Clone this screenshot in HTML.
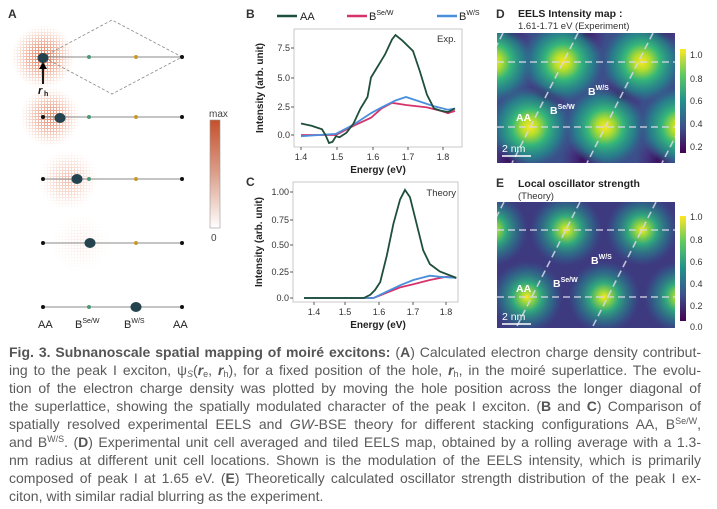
<!DOCTYPE html>
<html><head><meta charset="utf-8"><style>
html,body{margin:0;padding:0;background:#fff;}
body{width:717px;height:509px;position:relative;overflow:hidden;font-family:"Liberation Sans",sans-serif;}
.cap{position:absolute;left:9px;width:692px;font-size:14px;color:#5a5a5a;line-height:18px;white-space:nowrap;text-align:justify;text-align-last:justify;}
.cap.last{text-align-last:left;}
.cap b{color:#555;}
sup{font-size:9px;vertical-align:5px;line-height:0;}
sub{font-size:9px;vertical-align:-2px;line-height:0;}
</style></head><body>
<svg width="717" height="340" style="position:absolute;left:0;top:0" font-family="Liberation Sans, sans-serif">
<defs>
<radialGradient id="rc"><stop offset="0" stop-color="#d9542a" stop-opacity="0.85"/><stop offset="0.5" stop-color="#e0683e" stop-opacity="0.45"/><stop offset="1" stop-color="#f0a080" stop-opacity="0"/></radialGradient>
<pattern id="dots" width="3" height="3" patternUnits="userSpaceOnUse"><rect width="3" height="3" fill="#fff"/><rect width="2" height="2" fill="#000"/></pattern>
<mask id="dm"><rect x="0" y="0" width="240" height="340" fill="url(#dots)"/></mask>
<linearGradient id="cbA" x1="0" y1="0" x2="0" y2="1"><stop offset="0" stop-color="#c4502c"/><stop offset="0.5" stop-color="#dca08c"/><stop offset="1" stop-color="#ffffff"/></linearGradient>
<radialGradient id="ys"><stop offset="0" stop-color="#fde725"/><stop offset="0.2" stop-color="#b5de2b"/><stop offset="0.45" stop-color="#35b779"/><stop offset="0.75" stop-color="#21918c" stop-opacity="0.7"/><stop offset="1" stop-color="#2a788e" stop-opacity="0"/></radialGradient>
<radialGradient id="ys2"><stop offset="0" stop-color="#fde725"/><stop offset="0.15" stop-color="#a0da39"/><stop offset="0.4" stop-color="#2fb47c" stop-opacity="0.9"/><stop offset="0.75" stop-color="#26828e" stop-opacity="0.5"/><stop offset="1" stop-color="#31688e" stop-opacity="0"/></radialGradient>
<radialGradient id="dk"><stop offset="0" stop-color="#3b0f5e"/><stop offset="0.6" stop-color="#46307e" stop-opacity="0.7"/><stop offset="1" stop-color="#46307e" stop-opacity="0"/></radialGradient>
<linearGradient id="vir" x1="0" y1="1" x2="0" y2="0"><stop offset="0" stop-color="#440154"/><stop offset="0.25" stop-color="#3b528b"/><stop offset="0.5" stop-color="#21918c"/><stop offset="0.75" stop-color="#5ec962"/><stop offset="1" stop-color="#fde725"/></linearGradient>
<clipPath id="cd"><rect x="497" y="33" width="178" height="130"/></clipPath>
<clipPath id="ce"><rect x="497" y="202" width="178" height="126"/></clipPath>
</defs>
<!-- Panel A -->
<text x="8" y="18" font-size="12" font-weight="bold" fill="#333">A</text>
<g mask="url(#dm)">
<circle cx="43" cy="57" r="32" fill="url(#rc)"/>
<circle cx="50" cy="117" r="30" fill="url(#rc)" opacity="0.85"/>
<circle cx="68" cy="180" r="30" fill="url(#rc)" opacity="0.45"/>
<circle cx="80" cy="243" r="30" fill="url(#rc)" opacity="0.12"/>
</g>
<polygon points="43,57 112,20 182,57 112,94" fill="none" stroke="#888" stroke-width="0.8" stroke-dasharray="3,2"/>
<g stroke="#888" stroke-width="1">
<line x1="43" y1="57" x2="182" y2="57"/><line x1="43" y1="117" x2="182" y2="117"/><line x1="43" y1="179" x2="182" y2="179"/><line x1="43" y1="243" x2="182" y2="243"/><line x1="43" y1="307" x2="182" y2="307"/></g>
<g fill="#111"><circle cx="43" cy="117" r="2"/><circle cx="43" cy="179" r="2"/><circle cx="43" cy="243" r="2"/><circle cx="43" cy="307" r="2"/>
<circle cx="182" cy="57" r="2"/><circle cx="182" cy="117" r="2"/><circle cx="182" cy="179" r="2"/><circle cx="182" cy="243" r="2"/><circle cx="182" cy="307" r="2"/></g>
<g fill="#4f9a78"><circle cx="89" cy="57" r="2"/><circle cx="89" cy="117" r="2"/><circle cx="89" cy="179" r="2"/><circle cx="89" cy="307" r="2"/></g>
<g fill="#c89a2a"><circle cx="136" cy="57" r="2"/><circle cx="136" cy="117" r="2"/><circle cx="136" cy="179" r="2"/><circle cx="136" cy="243" r="2"/></g>
<g fill="#24434f"><ellipse cx="43" cy="58" rx="5.5" ry="5"/><ellipse cx="60" cy="118" rx="5.5" ry="5"/><ellipse cx="77" cy="179" rx="5.5" ry="5"/><ellipse cx="90" cy="243" rx="5.5" ry="5"/><ellipse cx="136" cy="307" rx="5.5" ry="5"/></g>
<line x1="43" y1="84" x2="43" y2="67" stroke="#000" stroke-width="1.8"/><polygon points="39,69 47,69 43,62" fill="#000"/>
<text x="38" y="94" font-size="11" font-weight="bold" font-style="italic" fill="#111">r</text><text x="44" y="96" font-size="7" font-weight="bold" fill="#111">h</text>
<text x="209" y="117" font-size="10" fill="#444">max</text>
<rect x="210" y="120" width="10" height="108" fill="url(#cbA)" stroke="#999" stroke-width="0.6"/>
<text x="211" y="241" font-size="10" fill="#444">0</text>
<g font-size="11" fill="#222"><text x="38" y="328">AA</text><text x="75" y="328">B<tspan font-size="7" dy="-5">Se/W</tspan></text><text x="124" y="328">B<tspan font-size="7" dy="-5">W/S</tspan></text><text x="173" y="328">AA</text></g>

<!-- Panel B -->
<text x="246" y="18" font-size="12" font-weight="bold" fill="#333">B</text>
<line x1="277" y1="16" x2="297" y2="16" stroke="#1f4f3a" stroke-width="2.5"/><text x="300" y="20" font-size="11" fill="#222">AA</text>
<line x1="347" y1="16" x2="367" y2="16" stroke="#d6336c" stroke-width="2.5"/><text x="369" y="20" font-size="11" fill="#222">B<tspan font-size="7" dy="-5">Se/W</tspan></text>
<line x1="437" y1="16" x2="457" y2="16" stroke="#4a8fdc" stroke-width="2.5"/><text x="438" y="20" font-size="11" fill="#222" dx="21">B<tspan font-size="7" dy="-5">W/S</tspan></text>
<rect x="294" y="29" width="168" height="118" fill="none" stroke="#bbb" stroke-width="0.8"/>
<g font-size="9" fill="#333" text-anchor="end"><text x="290" y="51">7.5</text><text x="290" y="81">5.0</text><text x="290" y="110">2.5</text><text x="290" y="138">0.0</text></g>
<g stroke="#333" stroke-width="0.8"><line x1="294" y1="48" x2="291" y2="48"/><line x1="294" y1="78" x2="291" y2="78"/><line x1="294" y1="107" x2="291" y2="107"/><line x1="294" y1="135" x2="291" y2="135"/>
<line x1="301" y1="147" x2="301" y2="150"/><line x1="337" y1="147" x2="337" y2="150"/><line x1="373" y1="147" x2="373" y2="150"/><line x1="408" y1="147" x2="408" y2="150"/><line x1="443" y1="147" x2="443" y2="150"/></g>
<g font-size="9" fill="#333" text-anchor="middle"><text x="301" y="160">1.4</text><text x="337" y="160">1.5</text><text x="373" y="160">1.6</text><text x="408" y="160">1.7</text><text x="443" y="160">1.8</text></g>
<text x="378" y="173" font-size="10" font-weight="bold" fill="#222" text-anchor="middle">Energy (eV)</text>
<text x="263" y="88" font-size="10" font-weight="bold" fill="#222" text-anchor="middle" transform="rotate(-90 263 88)">Intensity (arb. unit)</text>
<text x="456" y="42" font-size="9.5" fill="#333" text-anchor="end">Exp.</text>
<polyline fill="none" stroke="#d6336c" stroke-width="1.8" points="301,135 336,135 353.5,125.8 371,117.75 381.5,108.5 392,102.8 406,105 427,107.4 441,110.9 448,113.2 455,110.9"/>
<polyline fill="none" stroke="#4a8fdc" stroke-width="1.8" points="301,136.2 336,133.85 353.5,124.65 371,113.15 381.5,107.4 395.5,100.5 406,97 420,101.65 434,106.25 448,109.7 455,108.5"/>
<polyline fill="none" stroke="#1f4f3a" stroke-width="1.8" points="301,123.5 311.5,125.8 322,129.25 325.5,135 329,143 332.5,141.9 336,136.2 339.5,137.3 346.5,132.7 353.5,123.5 360.5,108.5 367.5,97 371,77.5 378,66 385,54.5 392,39.5 395.5,35 402.5,40.7 413,51 420,71.75 427,94.75 434,108.5 441,110.7 448,112 455,108.5"/>

<!-- Panel C -->
<text x="246" y="186" font-size="12" font-weight="bold" fill="#333">C</text>
<rect x="293" y="182" width="165" height="120" fill="none" stroke="#bbb" stroke-width="0.8"/>
<g font-size="9" fill="#333" text-anchor="end"><text x="289" y="195">1.00</text><text x="289" y="223">0.75</text><text x="289" y="248">0.50</text><text x="289" y="275">0.25</text><text x="289" y="301">0.0</text></g>
<g stroke="#333" stroke-width="0.8"><line x1="293" y1="192" x2="290" y2="192"/><line x1="293" y1="220" x2="290" y2="220"/><line x1="293" y1="245" x2="290" y2="245"/><line x1="293" y1="272" x2="290" y2="272"/><line x1="293" y1="298" x2="290" y2="298"/>
<line x1="314" y1="302" x2="314" y2="305"/><line x1="345" y1="302" x2="345" y2="305"/><line x1="379" y1="302" x2="379" y2="305"/><line x1="413" y1="302" x2="413" y2="305"/><line x1="446" y1="302" x2="446" y2="305"/></g>
<g font-size="9" fill="#333" text-anchor="middle"><text x="314" y="315">1.4</text><text x="345" y="315">1.5</text><text x="379" y="315">1.6</text><text x="413" y="315">1.7</text><text x="446" y="315">1.8</text></g>
<text x="378" y="328" font-size="10" font-weight="bold" fill="#222" text-anchor="middle">Energy (eV)</text>
<text x="262" y="242" font-size="10" font-weight="bold" fill="#222" text-anchor="middle" transform="rotate(-90 262 242)">Intensity (arb. unit)</text>
<text x="456" y="196" font-size="9.5" fill="#333" text-anchor="end">Theory</text>
<polyline fill="none" stroke="#d6336c" stroke-width="1.8" points="304,298 373.5,298 386.8,292.7 400.1,287.4 413.3,284.2 429.9,280 446.4,276.8 456.3,277.9"/>
<polyline fill="none" stroke="#4a8fdc" stroke-width="1.8" points="304,298 373.5,298 386.8,291.6 400.1,285.3 413.3,280 429.9,275.7 439.8,276.8 456.3,277.9"/>
<polyline fill="none" stroke="#1f4f3a" stroke-width="1.8" points="304,298 363.7,298 370.3,294.8 375,290 380.2,282.1 386.8,255.6 393.4,223.8 400.1,199.4 405,189.9 410,197.3 416.6,223.8 423.2,250.3 429.9,264.1 439.8,271.5 456.3,277.9"/>

<!-- Panel D -->
<text x="496" y="18" font-size="12" font-weight="bold" fill="#333">D</text>
<text x="518" y="17" font-size="10.5" font-weight="bold" fill="#222">EELS Intensity map :</text>
<text x="518" y="29" font-size="9.5" fill="#333">1.61-1.71 eV (Experiment)</text>
<g clip-path="url(#cd)">
<rect x="497" y="33" width="178" height="130" fill="#3b4f8a"/>
<g fill="url(#dk)"><circle cx="545" cy="98" r="24"/><circle cx="620" cy="98" r="24"/><circle cx="510" cy="35" r="22"/><circle cx="585" cy="35" r="22"/><circle cx="660" cy="35" r="22"/><circle cx="583" cy="160" r="22"/><circle cx="658" cy="160" r="22"/><circle cx="508" cy="160" r="22"/></g>
<g fill="url(#ys)"><circle cx="563" cy="62" r="40"/><circle cx="642" cy="62" r="40"/><circle cx="493" cy="62" r="40"/><circle cx="530" cy="127" r="40"/><circle cx="605" cy="127" r="40"/><circle cx="680" cy="127" r="40"/></g>
<g stroke="#d8d8e8" stroke-width="1.6" stroke-dasharray="7,4" opacity="0.85"><line x1="497" y1="62" x2="675" y2="62"/><line x1="497" y1="127" x2="675" y2="127"/>
<line x1="578" y1="33" x2="512" y2="163"/><line x1="653" y1="33" x2="587" y2="163"/><line x1="503" y1="33" x2="437" y2="163"/><line x1="728" y1="33" x2="662" y2="163"/></g>
<g fill="#fff" font-size="10.5" font-weight="bold"><text x="516" y="121">AA</text><text x="550" y="114">B<tspan font-size="7" dy="-5">Se/W</tspan></text><text x="588" y="95">B<tspan font-size="7" dy="-5">W/S</tspan></text><text x="502" y="152" font-weight="normal">2 nm</text></g>
<line x1="502" y1="156" x2="531" y2="156" stroke="#fff" stroke-width="1.5"/>
</g>
<rect x="680" y="49" width="6" height="104" fill="url(#vir)"/>
<g font-size="9" fill="#333"><text x="690" y="58">1.0</text><text x="690" y="82">0.8</text><text x="690" y="104">0.6</text><text x="690" y="127">0.4</text><text x="690" y="150">0.2</text></g>

<!-- Panel E -->
<text x="496" y="187" font-size="12" font-weight="bold" fill="#333">E</text>
<text x="518" y="187" font-size="10.5" font-weight="bold" fill="#222">Local oscillator strength</text>
<text x="518" y="199" font-size="9.5" fill="#333">(Theory)</text>
<g clip-path="url(#ce)">
<rect x="497" y="202" width="178" height="126" fill="#3d3a80"/>
<g fill="url(#ys2)"><circle cx="566" cy="230" r="36"/><circle cx="642" cy="230" r="36"/><circle cx="492" cy="230" r="36"/><circle cx="527" cy="297" r="36"/><circle cx="604" cy="297" r="36"/><circle cx="680" cy="297" r="36"/></g>
<g stroke="#d8d8e8" stroke-width="1.6" stroke-dasharray="7,4" opacity="0.85"><line x1="497" y1="230" x2="675" y2="230"/><line x1="497" y1="297" x2="675" y2="297"/>
<line x1="580" y1="202" x2="516" y2="328"/><line x1="656" y1="202" x2="592" y2="328"/><line x1="504" y1="202" x2="440" y2="328"/></g>
<g fill="#fff" font-size="10.5" font-weight="bold"><text x="516" y="292">AA</text><text x="553" y="287">B<tspan font-size="7" dy="-5">Se/W</tspan></text><text x="591" y="264">B<tspan font-size="7" dy="-5">W/S</tspan></text><text x="502" y="320" font-weight="normal">2 nm</text></g>
<line x1="502" y1="324" x2="531" y2="324" stroke="#fff" stroke-width="1.5"/>
</g>
<rect x="680" y="216" width="6" height="105" fill="url(#vir)"/>
<g font-size="9" fill="#333"><text x="690" y="220">1.0</text><text x="690" y="243">0.8</text><text x="690" y="265">0.6</text><text x="690" y="287">0.4</text><text x="690" y="309">0.2</text><text x="690" y="330">0.0</text></g>
</svg>

<div class="cap" style="top:343px"><b>Fig. 3. Subnanoscale spatial mapping of moiré excitons:</b> (<b>A</b>) Calculated electron charge density contribut-</div>
<div class="cap" style="top:361px">ing to the peak I exciton, ψ<sub><i>S</i></sub>(<b><i>r</i></b><sub>e</sub>, <b><i>r</i></b><sub>h</sub>), for a fixed position of the hole, <b><i>r</i></b><sub>h</sub>, in the moiré superlattice. The evolu-</div>
<div class="cap" style="top:379px">tion of the electron charge density was plotted by moving the hole position across the longer diagonal of</div>
<div class="cap" style="top:397px">the superlattice, showing the spatially modulated character of the peak I exciton. (<b>B</b> and <b>C</b>) Comparison of</div>
<div class="cap" style="top:415px">spatially resolved experimental EELS and <i>GW</i>-BSE theory for different stacking configurations AA, B<sup>Se/W</sup>,</div>
<div class="cap" style="top:433px">and B<sup>W/S</sup>. (<b>D</b>) Experimental unit cell averaged and tiled EELS map, obtained by a rolling average with a 1.3-</div>
<div class="cap" style="top:451px">nm radius at different unit cell locations. Shown is the modulation of the EELS intensity, which is primarily</div>
<div class="cap" style="top:469px">composed of peak I at 1.65 eV. (<b>E</b>) Theoretically calculated oscillator strength distribution of the peak I ex-</div>
<div class="cap last" style="top:487px">citon, with similar radial blurring as the experiment.</div>
</body></html>
